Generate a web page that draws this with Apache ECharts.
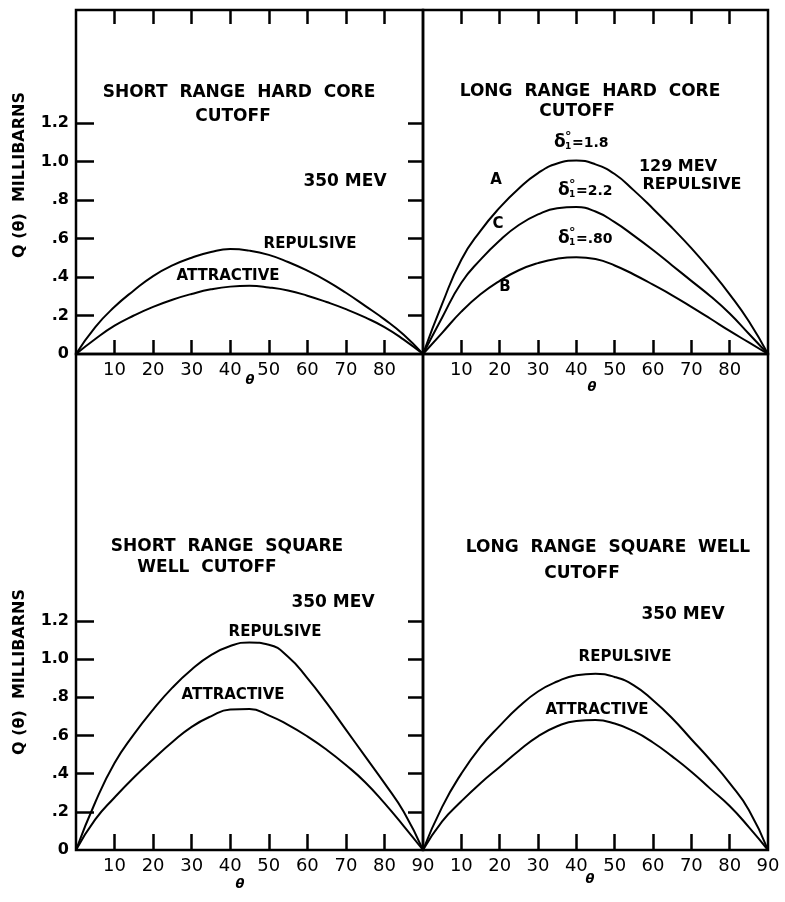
<!DOCTYPE html>
<html><head><meta charset="utf-8">
<script src="https://cdn.jsdelivr.net/npm/echarts@6/dist/echarts.min.js"></script>
<style>html,body{margin:0;padding:0;background:#fff}#c{width:785px;height:902px}</style>
</head><body><div id="c"></div>
<script>
// ---- data ----
const theta = [0,5,10,15,20,25,30,35,40,45,50,55,60,65,70,75,80,85,90];
// Short range hard core cutoff, 350 MeV
const shcRepulsive  = [0,0.14,0.245,0.33,0.405,0.46,0.50,0.53,0.545,0.537,0.515,0.478,0.433,0.38,0.318,0.25,0.18,0.10,0];
const shcAttractive = [0,0.078,0.147,0.20,0.245,0.282,0.312,0.336,0.35,0.354,0.346,0.33,0.303,0.27,0.233,0.19,0.14,0.075,0];
// Long range hard core cutoff, 129 MeV repulsive
const lhcA = [0,0.26,0.49,0.64,0.76,0.86,0.94,0.99,1.005,0.985,0.935,0.85,0.755,0.655,0.55,0.435,0.31,0.17,0];
const lhcC = [0,0.19,0.37,0.49,0.59,0.67,0.725,0.757,0.763,0.74,0.685,0.615,0.54,0.46,0.38,0.30,0.21,0.105,0];
const lhcB = [0,0.11,0.22,0.31,0.38,0.435,0.472,0.495,0.503,0.493,0.46,0.413,0.36,0.305,0.245,0.183,0.12,0.06,0];
// Short range square well cutoff, 350 MeV
const sswRepulsive  = [0,0.25,0.455,0.605,0.735,0.85,0.945,1.02,1.068,1.087,1.075,1.012,0.90,0.77,0.63,0.49,0.35,0.20,0];
const sswAttractive = [0,0.16,0.275,0.38,0.475,0.565,0.645,0.70,0.735,0.738,0.705,0.655,0.595,0.525,0.445,0.355,0.245,0.125,0];
// Long range square well cutoff, 350 MeV
const lswRepulsive  = [0,0.226,0.40,0.54,0.65,0.75,0.83,0.882,0.915,0.923,0.906,0.862,0.784,0.69,0.58,0.47,0.35,0.21,0];
const lswAttractive = [0,0.15,0.255,0.35,0.435,0.52,0.595,0.648,0.676,0.68,0.662,0.622,0.563,0.49,0.41,0.32,0.23,0.12,0];
// tick labels
const xTicks = [10,20,30,40,50,60,70,80];
const xTicksBottom = [10,20,30,40,50,60,70,80,90];
const yTicks = [0,0.2,0.4,0.6,0.8,1.0,1.2];
const yTicksInner = [0.2,0.4,0.6,0.8,1.0,1.2];
const yTickText = {0:'0',0.2:'.2',0.4:'.4',0.6:'.6',0.8:'.8',1:'1.0',1.2:'1.2'};

const FONT = 'DejaVu Sans';
const chart = echarts.init(document.getElementById('c'), null, {renderer:'canvas'});
const pair = (ys) => theta.map((t,i)=>[t, ys[i]]);

const gridBox = {show:true, borderColor:'#000', borderWidth:2.5, backgroundColor:'transparent'};
const grids = [
  Object.assign({left:76, top:10, width:347, height:344}, gridBox),
  Object.assign({left:423, top:10, width:345, height:344}, gridBox),
  Object.assign({left:76, top:354, width:347, height:496}, gridBox),
  Object.assign({left:423, top:354, width:345, height:496}, gridBox)
];

function xAx(grid, pos, labels, len) {
  return {
    type:'value', gridIndex:grid, position:pos, min:0, max:90,
    axisLine:{show:false}, splitLine:{show:false},
    axisTick:{show:true, inside:true, length:len, customValues:xTicks, lineStyle:{color:'#000', width:2.5}},
    axisLabel:{show:!!labels, customValues:labels||[], margin:7, color:'#000', fontFamily:FONT, fontSize:18}
  };
}
function yAx(grid, pos, max, labels, len) {
  return {
    type:'value', gridIndex:grid, position:pos, min:0, max:max,
    axisLine:{show:false}, splitLine:{show:false},
    axisTick:{show:true, inside:true, length:len, customValues:yTicksInner, lineStyle:{color:'#000', width:2.5}},
    axisLabel:{show:labels, customValues:yTicks, margin:7, color:'#000', fontFamily:FONT, fontSize:16, fontWeight:'bold',
      formatter:(v)=> yTickText[Math.round(v*10)/10]}
  };
}
const topMax = 344/192.5;
const botMax = 496/191;
const xAxes = [
  xAx(0,'bottom',xTicks,14), xAx(0,'top',null,14),
  xAx(1,'bottom',xTicks,14), xAx(1,'top',null,14),
  xAx(2,'bottom',xTicksBottom,16),
  xAx(3,'bottom',xTicksBottom,16)
];
const yAxes = [
  yAx(0,'left',topMax,true,18),
  yAx(1,'right',topMax,false,15),
  yAx(2,'left',botMax,true,18),
  yAx(3,'right',botMax,false,15)
];
function line(xi, yi, ys) {
  return {type:'line', xAxisIndex:xi, yAxisIndex:yi, data:pair(ys), symbol:'none', smooth:0.5,
    lineStyle:{color:'#000', width:2}, silent:true, animation:false};
}
const series = [
  line(0,0,shcRepulsive), line(0,0,shcAttractive),
  line(2,1,lhcA), line(2,1,lhcC), line(2,1,lhcB),
  line(4,2,sswRepulsive), line(4,2,sswAttractive),
  line(5,3,lswRepulsive), line(5,3,lswAttractive)
];

function T(x, y, s, size, weight, extra) {
  return Object.assign({type:'text', x:x, y:y, style:{text:s, fill:'#000', font:(weight||'bold')+' '+size+'px "'+FONT+'"',
    textAlign:'center', textVerticalAlign:'middle'}}, extra||{});
}
function delta(cx, cy, val) {
  const w = 44, x0 = cx - w/2;
  return {type:'group', children:[
    {type:'text', x:x0, y:cy, style:{text:'δ', fill:'#000', font:'bold 17px "'+FONT+'"', textAlign:'left', textVerticalAlign:'middle'}},
    {type:'text', x:x0+11, y:cy-6, style:{text:'°', fill:'#000', font:'bold 13px "'+FONT+'"', textAlign:'left', textVerticalAlign:'middle'}},
    {type:'text', x:x0+11, y:cy+4, style:{text:'1', fill:'#000', font:'bold 9px "'+FONT+'"', textAlign:'left', textVerticalAlign:'middle'}},
    {type:'text', x:x0+18, y:cy, style:{text:val, fill:'#000', font:'bold 14px "'+FONT+'"', textAlign:'left', textVerticalAlign:'middle'}}
  ]};
}
const graphic = [
  // top-left
  T(239,93,'SHORT  RANGE  HARD  CORE',17), T(233,117,'CUTOFF',17),
  T(345,182,'350 MEV',17), T(310,244,'REPULSIVE',15), T(228,276,'ATTRACTIVE',15),
  // top-right
  T(590,92,'LONG  RANGE  HARD  CORE',17), T(577,112,'CUTOFF',17),
  delta(576,143,'=1.8'), delta(580,191,'=2.2'), delta(580,239,'=.80'),
  T(678,167,'129 MEV',16), T(692,185,'REPULSIVE',16),
  T(496,180,'A',15), T(498,224,'C',15), T(505,287,'B',15),
  // bottom-left
  T(227,547,'SHORT  RANGE  SQUARE',17), T(207,568,'WELL  CUTOFF',17),
  T(333,603,'350 MEV',17), T(275,632,'REPULSIVE',15), T(233,695,'ATTRACTIVE',15),
  // bottom-right
  T(608,548,'LONG  RANGE  SQUARE  WELL',17), T(582,574,'CUTOFF',17),
  T(683,615,'350 MEV',17), T(625,657,'REPULSIVE',15), T(597,710,'ATTRACTIVE',15),
  // axis names
  T(20,175,'Q (θ)  MILLIBARNS',16,'bold',{rotation:Math.PI/2}),
  T(20,672,'Q (θ)  MILLIBARNS',16,'bold',{rotation:Math.PI/2}),
  T(250,381,'θ',13,'italic bold'), T(592,388,'θ',13,'italic bold'),
  T(240,885,'θ',13,'italic bold'), T(590,880,'θ',13,'italic bold')
];

chart.setOption({
  animation:false,
  backgroundColor:'#fff',
  grid:grids, xAxis:xAxes, yAxis:yAxes, series:series, graphic:graphic
});
</script></body></html>
